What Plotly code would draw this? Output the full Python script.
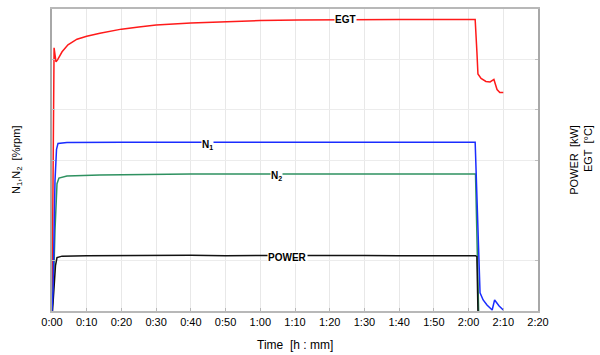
import plotly.graph_objects as go

# ---- data (time in minutes, values in normalized chart units 0..6) ----
egt_t = [0, 0.3, 0.6, 1.15, 1.6, 2.9, 4.6, 7.2, 10, 13.8, 20, 25, 30, 40, 50, 60, 71, 86, 100, 110,
         121.9, 122.4, 122.7, 123.6, 125, 126.2, 127, 127.3, 128.2, 129, 130]
egt_v = [0, 2.5, 5.23, 4.95, 4.99, 5.15, 5.29, 5.40, 5.46, 5.52, 5.60, 5.64, 5.68, 5.72, 5.75, 5.77,
         5.78, 5.79, 5.79, 5.79, 5.79, 5.15, 4.71, 4.62, 4.56, 4.55, 4.59, 4.60, 4.40, 4.34, 4.34]

n1_t = [0, 0.3, 0.86, 1.3, 1.73, 4.3, 20, 60, 100, 121.9, 123.3, 124.2, 125.3, 126.8, 127.5, 128.8, 130]
n1_v = [0, 0.41, 2.58, 3.21, 3.33, 3.35, 3.355, 3.355, 3.355, 3.355, 0.36, 0.22, 0.12, 0.02, 0.22, 0.10, 0.02]

n2_t = [0, 0.43, 0.86, 1.44, 2.0, 4.3, 13.8, 40, 80, 122.0, 122.9]
n2_v = [0, 0.5, 1.6, 2.53, 2.64, 2.68, 2.70, 2.72, 2.72, 2.72, 0]

pw_t = [0.15, 0.6, 1.0, 1.44, 2.9, 10, 20, 30, 40, 50, 60, 70, 80, 90, 100, 110, 122.0, 122.4, 122.7]
pw_v = [0, 0.5, 0.9, 1.06, 1.09, 1.10, 1.105, 1.10, 1.11, 1.10, 1.105, 1.10, 1.10, 1.105, 1.10, 1.105, 1.10, 1.08, 0]

x_tickvals = [0, 10, 20, 30, 40, 50, 60, 70, 80, 90, 100, 110, 120, 130, 140]
x_ticktext = ["0:00", "0:10", "0:20", "0:30", "0:40", "0:50", "1:00", "1:10", "1:20",
              "1:30", "1:40", "1:50", "2:00", "2:10", "2:20"]
y_gridvals = [1, 3, 4, 5]

FONT = "Arial"

fig = go.Figure()
fig.add_trace(go.Scatter(x=egt_t, y=egt_v, mode="lines", line=dict(color="#ff1a1a", width=1.5)))
fig.add_trace(go.Scatter(x=n2_t, y=n2_v, mode="lines", line=dict(color="#2e9160", width=1.5)))
fig.add_trace(go.Scatter(x=pw_t, y=pw_v, mode="lines", line=dict(color="#111111", width=1.5)))
fig.add_trace(go.Scatter(x=n1_t, y=n1_v, mode="lines", line=dict(color="#1a2cff", width=1.5)))

label_font = dict(family=FONT, size=10, color="black")
for txt, xv, yv in [("<b>EGT</b>", 84.5, 5.79), ("<b>N<sub>1</sub></b>", 44.7, 3.3),
                    ("<b>N<sub>2</sub></b>", 64.8, 2.68), ("<b>POWER</b>", 67.7, 1.07)]:
    fig.add_annotation(x=xv, y=yv, text=txt, showarrow=False, bgcolor="white",
                       font=label_font, borderpad=0)

fig.add_annotation(xref="paper", yref="paper", x=0.5, y=-0.112, xanchor="center", yanchor="middle",
                   text="Time  [h : mm]", showarrow=False,
                   font=dict(family=FONT, size=12, color="black"))
fig.add_annotation(xref="paper", yref="paper", x=-0.072, y=0.5, xanchor="center", yanchor="middle",
                   textangle=-90, text="N<sub>1</sub>,N<sub>2</sub>  [%rpm]", showarrow=False,
                   font=dict(family=FONT, size=11, color="black"))
fig.add_annotation(xref="paper", yref="paper", x=1.088, y=0.5, xanchor="center", yanchor="middle",
                   textangle=-90, align="right",
                   text="POWER  [kW]<br>EGT  [°C]", showarrow=False,
                   font=dict(family=FONT, size=11, color="black"))

fig.update_layout(
    width=600, height=355, showlegend=False,
    margin=dict(l=52, r=62, t=7, b=44),
    plot_bgcolor="white", paper_bgcolor="white",
    xaxis=dict(range=[0, 140], tickvals=x_tickvals, ticktext=x_ticktext,
               showgrid=True, gridcolor="#e8e8e8", gridwidth=1, zeroline=False,
               showline=True, linecolor="#b8b8b8", linewidth=1.5, mirror=True,
               ticks="inside", ticklen=3, tickcolor="#b8b8b8",
               tickfont=dict(family=FONT, size=11, color="black")),
    yaxis=dict(range=[0, 6], tickvals=y_gridvals, showticklabels=False,
               showgrid=True, gridcolor="#ececec", gridwidth=1, zeroline=False,
               showline=True, linecolor="#a8a8a8", linewidth=2, mirror="ticks",
               ticks="inside", ticklen=3, tickcolor="#c0c0c0"),
)

fig.write_html("out.html", config={"displayModeBar": False},
               post_script="document.body.style.margin='0';")
